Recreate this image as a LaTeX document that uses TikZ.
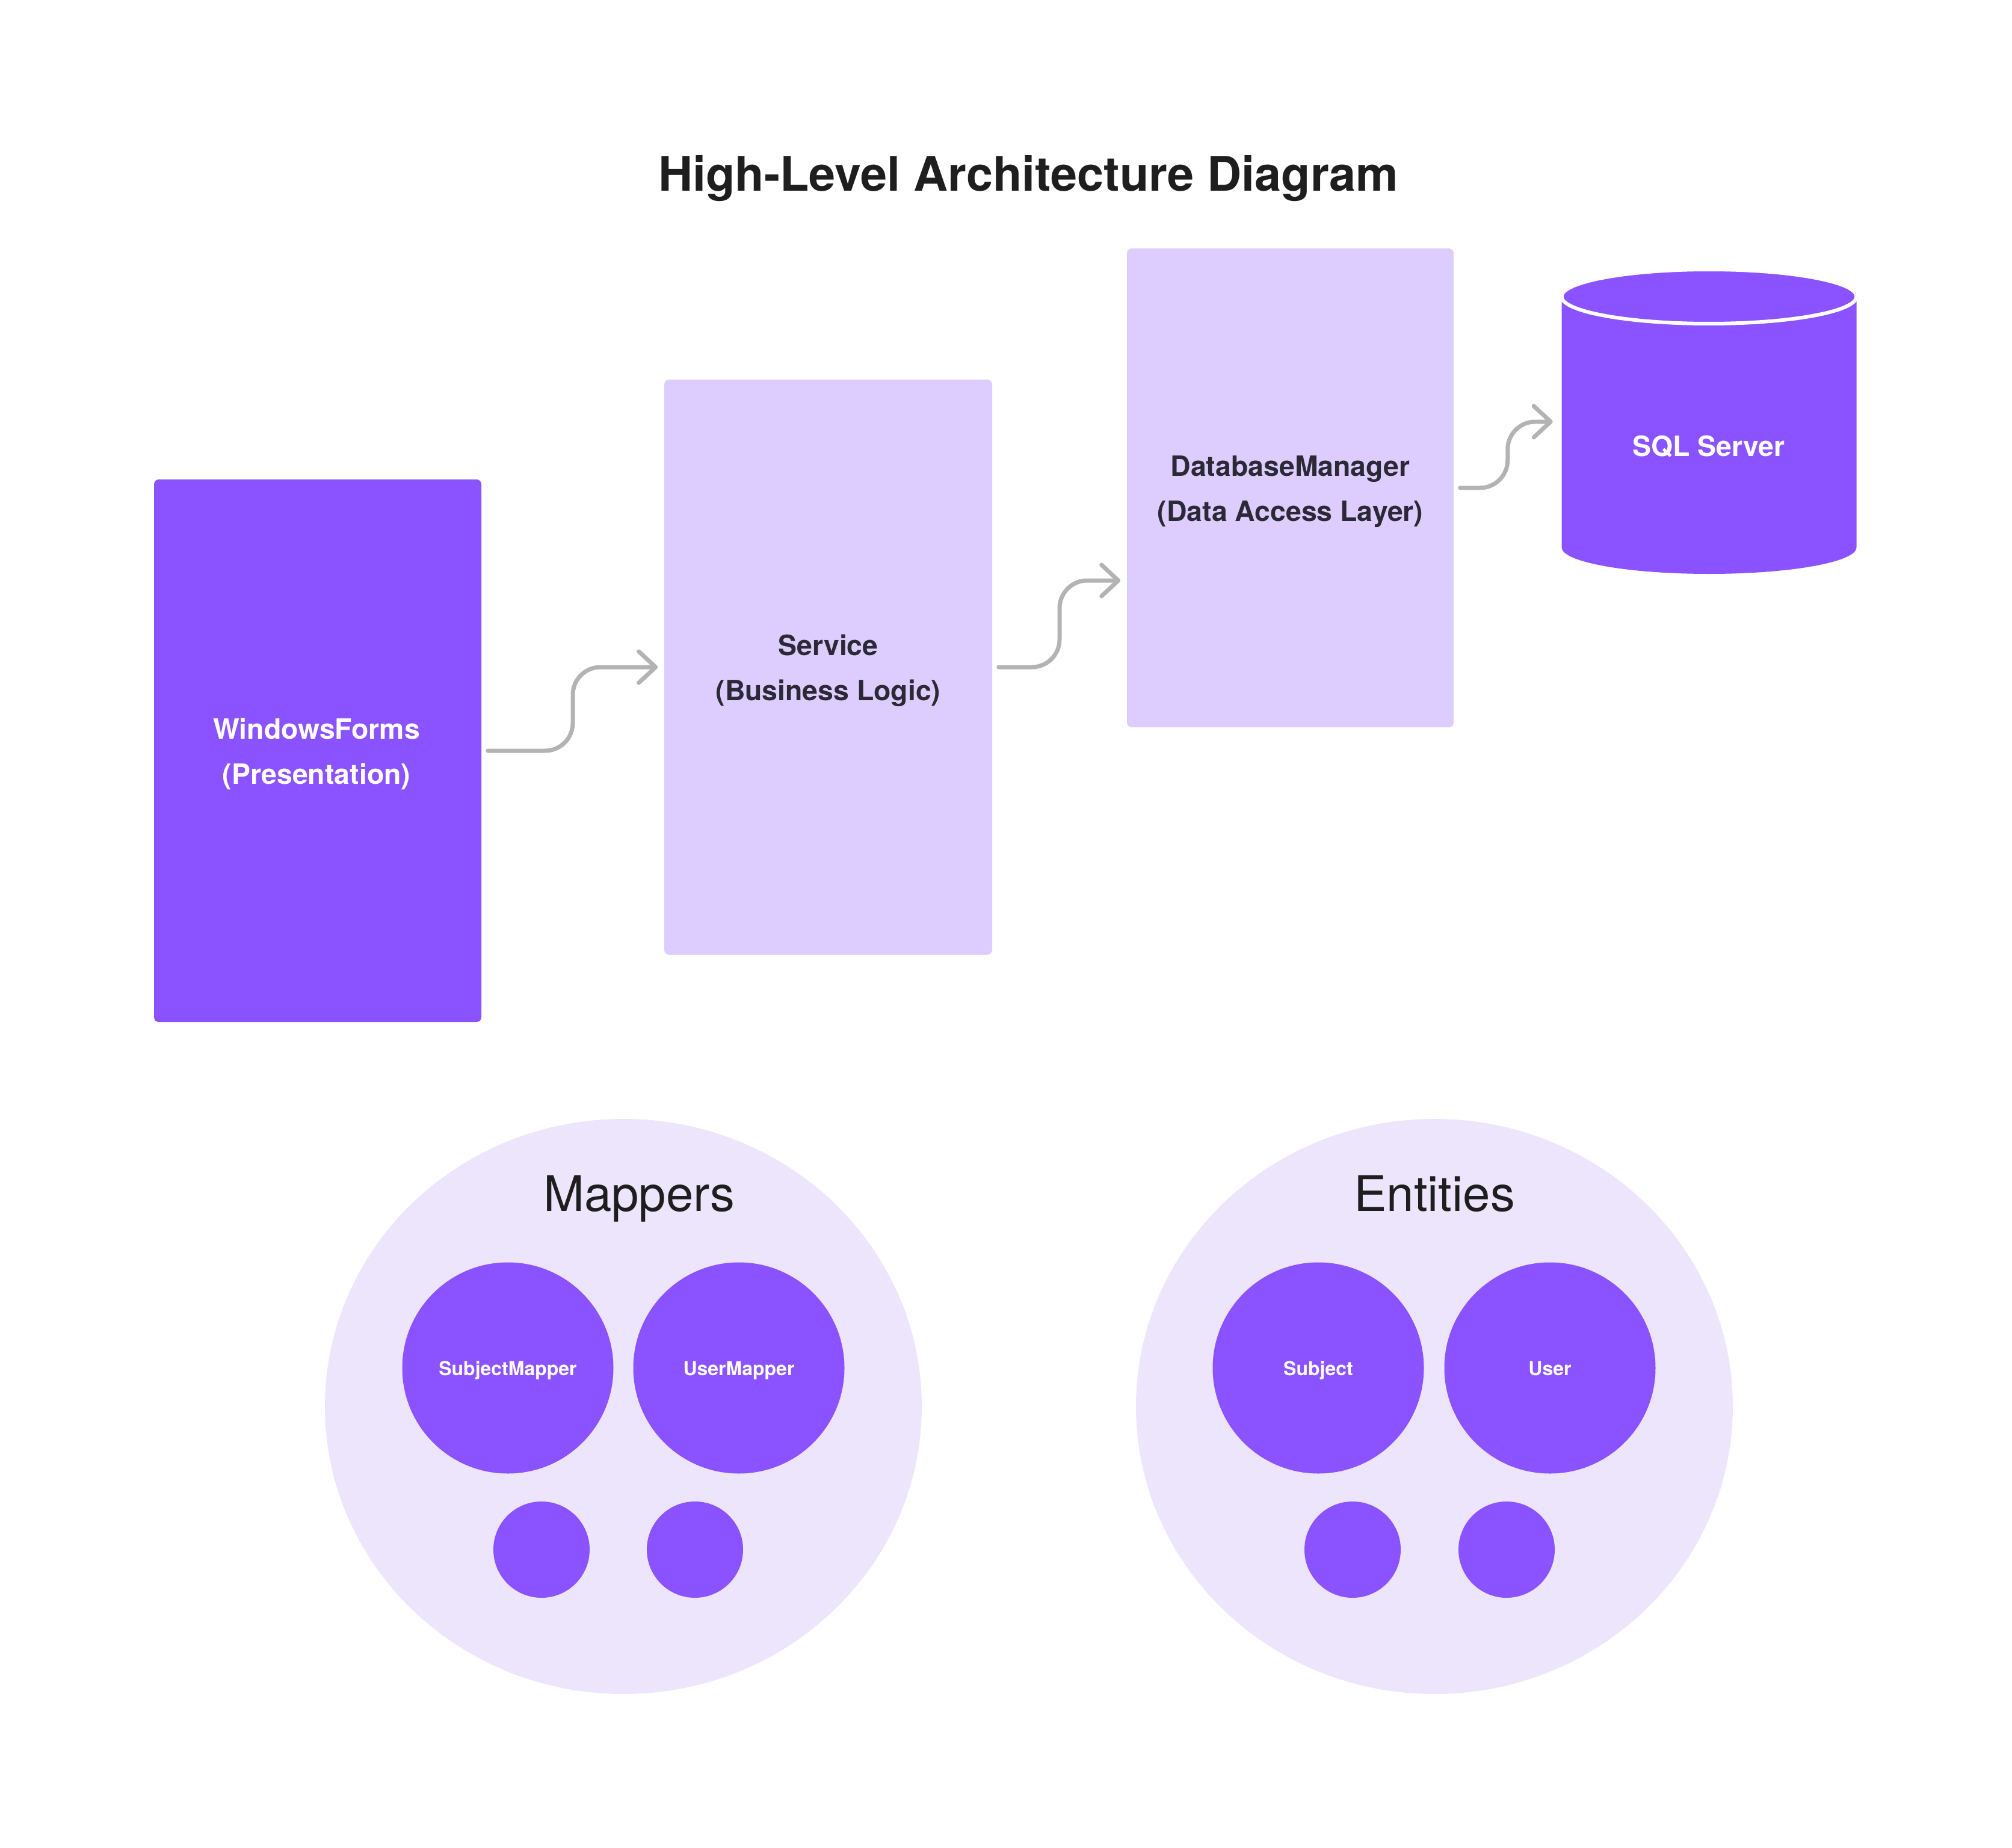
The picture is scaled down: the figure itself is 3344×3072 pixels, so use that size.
\documentclass[tikz,border=0pt]{standalone}
\usepackage{fontspec}
\setmainfont{TeX Gyre Heros}
\usetikzlibrary{shapes.geometric,arrows.meta,calc}
\definecolor{purp}{HTML}{8B52FF}
\definecolor{lilac}{HTML}{DDCDFE}
\definecolor{pale}{HTML}{EDE5FC}
\definecolor{arrowgray}{HTML}{B3B3B3}
\definecolor{ink}{HTML}{1E1E1E}
\definecolor{inkdark}{HTML}{2B2935}
\begin{document}
\begin{tikzpicture}[x=0.25pt,y=-0.25pt,
  darkbox/.style={fill=purp, rounded corners=2pt, inner sep=0pt, draw=none},
  lightbox/.style={fill=lilac, rounded corners=2pt, inner sep=0pt, draw=none},
  wlbl/.style={font=\fontsize{11.6}{13}\selectfont\bfseries, text=white, anchor=base, inner sep=0pt},
  dlbl/.style={font=\fontsize{11.6}{13}\selectfont\bfseries, text=inkdark, anchor=base, inner sep=0pt},
  grouplbl/.style={font=\fontsize{20.4}{24}\selectfont, text=ink, anchor=base, inner sep=0pt},
  grp/.style={ellipse, fill=pale, draw=none, inner sep=0pt, minimum width=248pt, minimum height=239pt},
  bigdot/.style={circle, fill=purp, draw=none, inner sep=0pt, minimum size=87.75pt},
  smalldot/.style={circle, fill=purp, draw=none, inner sep=0pt, minimum size=40pt},
  dotlbl/.style={font=\fontsize{8}{9}\selectfont\bfseries, text=white, anchor=base, inner sep=0pt},
  conn/.style={draw=arrowgray, line width=1.75pt, line cap=round, line join=round, rounded corners=11.5pt,
    -{Straight Barb[length=7pt,width=13pt,round]}}
]
\useasboundingbox (0,0) rectangle (3344,3072);

% title
\node[font=\fontsize{19.8}{24}\selectfont\bfseries, text=ink, anchor=base, inner sep=0pt] (title) at (1709,318) {High-Level Architecture Diagram};

% boxes
\node[darkbox, minimum width=136pt, minimum height=225.5pt] (wf) at (528,1248) {};
\node[lightbox, minimum width=136.25pt, minimum height=239pt] (svc) at (1376.5,1109) {};
\node[lightbox, minimum width=135.75pt, minimum height=199pt] (db) at (2144.5,811) {};

\node[wlbl] (wf1) at (526,1228) {WindowsForms};
\node[wlbl] (wf2) at (526,1303) {(Presentation)};
\node[dlbl] (svc1) at (1376.5,1089) {Service};
\node[dlbl] (svc2) at (1376.5,1164) {(Business Logic)};
\node[dlbl] (db1) at (2144.5,791) {DatabaseManager};
\node[dlbl] (db2) at (2144.5,866) {(Data Access Layer)};

% SQL Server cylinder
\node[inner sep=0pt, minimum width=122.5pt, minimum height=126.5pt] (sql) at (2840.5,701) {};
\fill[purp] (2595.5,493) -- (2595.5,910) arc[start angle=180, end angle=360, x radius=61.25pt, y radius=11pt] -- (3085.5,493) -- cycle;
\filldraw[fill=purp, draw=white, line width=1.5pt] (2840.5,493) ellipse [x radius=61.25pt, y radius=11.25pt];
\node[wlbl] (sqltxt) at (2840,758) {SQL Server};

% connectors
\coordinate (m1) at ($(wf.east)!0.5!(svc.west)$);
\coordinate (m2) at ($(svc.east)!0.5!(db.west)$);
\coordinate (m3) at ($(db.east)!0.5!(sql.west)$);
\coordinate (dbin) at ([yshift=-38.5pt]db.west);
\draw[conn] ([xshift=2.5pt]wf.east) -- (m1 |- wf.east) -- (m1 |- svc.west) -- ([xshift=-2.5pt]svc.west);
\draw[conn] ([xshift=2.5pt]svc.east) -- (m2 |- svc.east) -- (m2 |- dbin) -- ([xshift=-2.5pt]dbin);
\draw[conn] ([xshift=2.5pt]db.east) -- (m3 |- db.east) -- (m3 |- sql.west) -- ([xshift=-3.5pt]sql.west);

% Mappers group
\node[grp] (mappers) at (1036,2338) {};
\node[grouplbl] (mapperslbl) at (1062,2013) {Mappers};
\node[bigdot] (subjmap) at (844,2274) {};
\node[dotlbl] (subjmaplbl) at (844,2286) {SubjectMapper};
\node[bigdot] (usermap) at (1228,2274) {};
\node[dotlbl] (usermaplbl) at (1228,2286) {UserMapper};
\node[smalldot] (msm1) at (900,2576) {};
\node[smalldot] (msm2) at (1155,2576) {};

% Entities group
\node[grp] (entities) at (2384,2338) {};
\node[grouplbl] (entitieslbl) at (2384,2013) {Entities};
\node[bigdot] (subj) at (2191,2274) {};
\node[dotlbl] (subjlbl) at (2191,2286) {Subject};
\node[bigdot] (user) at (2576,2274) {};
\node[dotlbl] (userlbl) at (2576,2286) {User};
\node[smalldot] (esm1) at (2248,2576) {};
\node[smalldot] (esm2) at (2504,2576) {};
\end{tikzpicture}
\end{document}
